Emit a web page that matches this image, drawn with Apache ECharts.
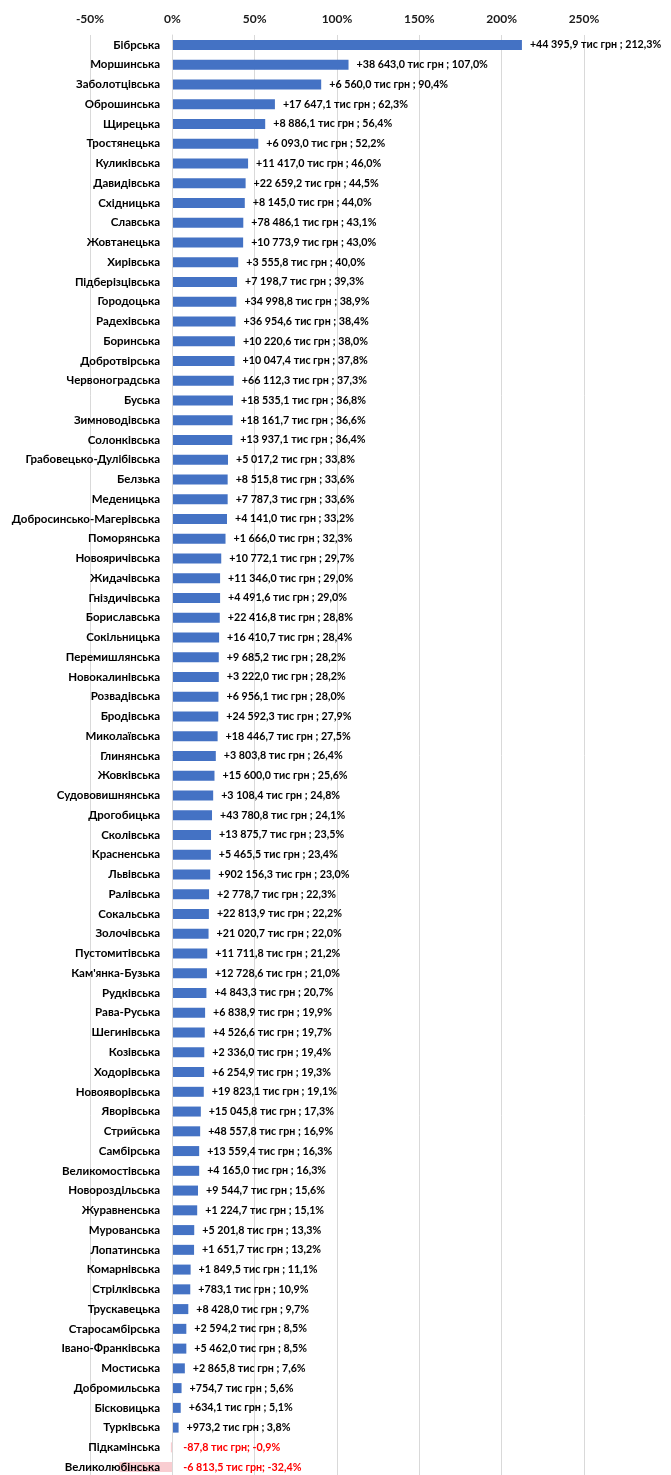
<!DOCTYPE html>
<html>
<head>
<meta charset="utf-8">
<script src="https://cdn.jsdelivr.net/npm/echarts@6/dist/echarts.min.js"></script>
<style>
html,body{margin:0;padding:0;background:#fff;}
#chart{width:671px;height:1475px;}
</style>
</head>
<body>
<div id="chart"></div>
<script>
var categories = ["Бібрська","Моршинська","Заболотцівська","Оброшинська","Щирецька","Тростянецька","Куликівська","Давидівська","Східницька","Славська","Жовтанецька","Хирівська","Підберізцівська","Городоцька","Радехівська","Боринська","Добротвірська","Червоноградська","Буська","Зимноводівська","Солонківська","Грабовецько-Дулібівська","Белзька","Меденицька","Добросинсько-Магерівська","Поморянська","Новояричівська","Жидачівська","Гніздичівська","Бориславська","Сокільницька","Перемишлянська","Новокалинівська","Розвадівська","Бродівська","Миколаївська","Глинянська","Жовківська","Судововишнянська","Дрогобицька","Сколівська","Красненська","Львівська","Ралівська","Сокальська","Золочівська","Пустомитівська","Кам'янка-Бузька","Рудківська","Рава-Руська","Шегинівська","Козівська","Ходорівська","Новояворівська","Яворівська","Стрийська","Самбірська","Великомостівська","Новороздільська","Журавненська","Мурованська","Лопатинська","Комарнівська","Стрілківська","Трускавецька","Старосамбірська","Івано-Франківська","Мостиська","Добромильська","Бісковицька","Турківська","Підкамінська","Великолюбінська"];
var percentChange = [212.3,107.0,90.4,62.3,56.4,52.2,46.0,44.5,44.0,43.1,43.0,40.0,39.3,38.9,38.4,38.0,37.8,37.3,36.8,36.6,36.4,33.8,33.6,33.6,33.2,32.3,29.7,29.0,29.0,28.8,28.4,28.2,28.2,28.0,27.9,27.5,26.4,25.6,24.8,24.1,23.5,23.4,23.0,22.3,22.2,22.0,21.2,21.0,20.7,19.9,19.7,19.4,19.3,19.1,17.3,16.9,16.3,16.3,15.6,15.1,13.3,13.2,11.1,10.9,9.7,8.5,8.5,7.6,5.6,5.1,3.8,-0.9,-32.4];
var amountChange = [44395.9,38643.0,6560.0,17647.1,8886.1,6093.0,11417.0,22659.2,8145.0,78486.1,10773.9,3555.8,7198.7,34998.8,36954.6,10220.6,10047.4,66112.3,18535.1,18161.7,13937.1,5017.2,8515.8,7787.3,4141.0,1666.0,10772.1,11346.0,4491.6,22416.8,16410.7,9685.2,3222.0,6956.1,24592.3,18446.7,3803.8,15600.0,3108.4,43780.8,13875.7,5465.5,902156.3,2778.7,22813.9,21020.7,11711.8,12728.6,4843.3,6838.9,4526.6,2336.0,6254.9,19823.1,15045.8,48557.8,13559.4,4165.0,9544.7,1224.7,5201.8,1651.7,1849.5,783.1,8428.0,2594.2,5462.0,2865.8,754.7,634.1,973.2,-87.8,-6813.5];
var xTicks = [-50,0,50,100,150,200,250];

function fmtNum(v){
  var a = Math.abs(v).toFixed(1).split('.');
  var intPart = a[0].replace(/\B(?=(\d{3})+(?!\d))/g, ' ');
  return intPart + ',' + a[1];
}

var FONT = 'Lato, "Noto Sans", sans-serif';

var data = percentChange.map(function(p, i){
  var amt = amountChange[i];
  if (p >= 0) {
    return {
      value: p,
      itemStyle: {color: '#4472C4'},
      label: {formatter: '+' + fmtNum(amt) + ' тис грн ; ' + fmtNum(p) + '%', color: '#000'}
    };
  }
  return {
    value: p,
    itemStyle: {color: '#F9CDD1'},
    label: {formatter: '-' + fmtNum(amt) + ' тис грн; -' + fmtNum(p) + '%', color: '#FF0000', position: 'right', distance: 11}
  };
});

var chart = echarts.init(document.getElementById('chart'), null, {renderer: 'canvas'});
chart.setOption({
  animation: false,
  backgroundColor: '#fff',
  grid: {left: 90, right: 87, top: 35, height: 1442, containLabel: false, outerBoundsMode: 'none'},
  xAxis: {
    type: 'value',
    position: 'top',
    min: xTicks[0],
    max: xTicks[xTicks.length - 1],
    interval: 50,
    axisLine: {show: false},
    axisTick: {show: false},
    splitLine: {show: true, lineStyle: {color: '#D9D9D9', width: 1}},
    axisLabel: {formatter: '{value}%', fontFamily: FONT, fontWeight: 'bold', fontSize: 12, color: '#1a1a1a', margin: 10}
  },
  yAxis: {
    type: 'category',
    inverse: true,
    data: categories,
    offset: -82,
    z: 5,
    axisLine: {show: true, onZero: false, lineStyle: {color: '#D9D9D9'}},
    axisTick: {show: false},
    axisLabel: {fontFamily: FONT, fontWeight: 'bold', fontSize: 11.5, color: '#000', margin: 12}
  },
  series: [{
    type: 'bar',
    data: data,
    barWidth: 10,
    z: 2,
    label: {show: true, position: 'right', distance: 8, fontFamily: FONT, fontWeight: 'bold', fontSize: 10.7}
  }]
});
</script>
</body>
</html>
